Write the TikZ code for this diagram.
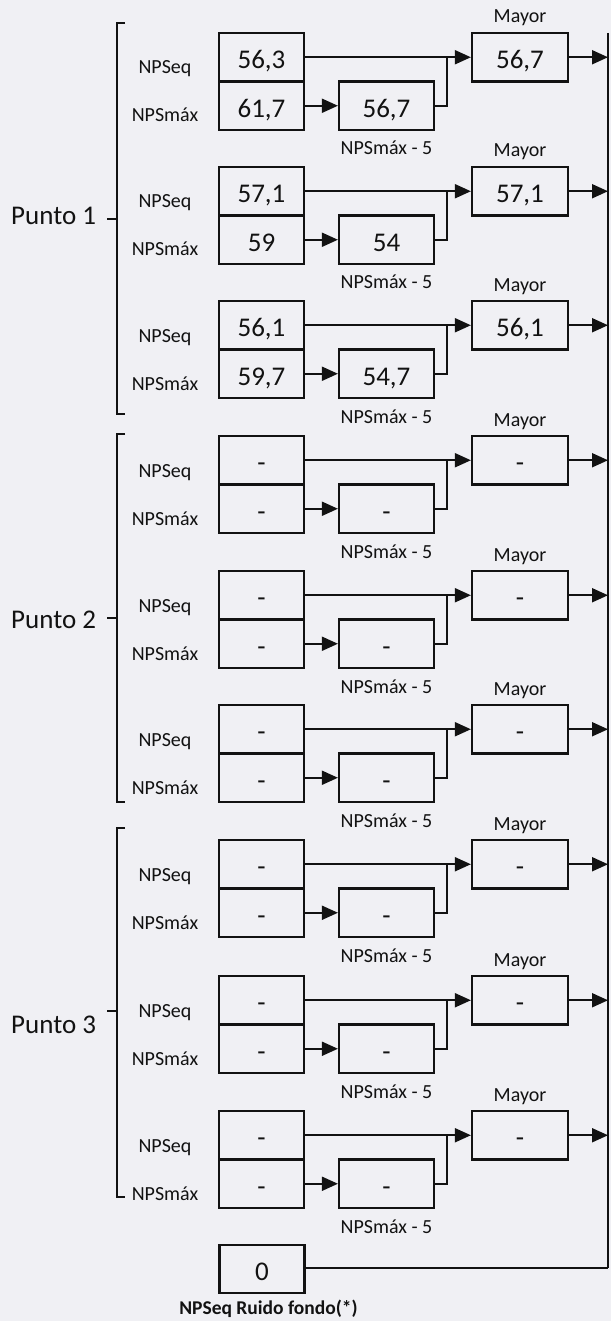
\documentclass[tikz,border=0pt]{standalone}
\usepackage{fontspec}
\setmainfont{Carlito}
\usetikzlibrary{arrows.meta}
\definecolor{paper}{RGB}{240,240,244}
\definecolor{ink}{RGB}{18,18,18}

\newcommand{\blk}[6]{%
  \node[cell] (a#1) at (261.5,#2+24.25) {#3};
  \node[cell] (b#1) at (261.5,#2+72.75) {#4};
  \node[cell, minimum width=95pt] (s#1) at (386.5,#2+72.75) {#5};
  \node[cell, minimum width=96pt] (m#1) at (520,#2+24.25) {#6};
  \node[lbl, anchor=base] (le#1) at (165,#2+41) {NPSeq};
  \node[lbl, anchor=base] (lm#1) at (165,#2+89) {NPSmáx};
  \node[lbl, anchor=base] (ly#1) at (520,#2-10) {Mayor};
  \node[lbl, anchor=base] (ln#1) at (386.5,#2+122) {NPSmáx - 5};
  \coordinate (j#1) at (447,#2+24.25);
  \coordinate (r#1) at (608,#2+24.25);
  \draw[arr] (a#1.east) -- (m#1.west);
  \draw[arr] (b#1.east) -- (s#1.west);
  \draw[conn] (s#1.east) -| (j#1);
  \draw[arr] (m#1.east) -- (r#1);
}

\begin{document}
\begin{tikzpicture}[x=1pt, y=-1pt,
  cell/.style={draw=ink, text=ink, line width=2.2pt, minimum width=85pt,
    minimum height=48.5pt, inner sep=0pt, font=\fontsize{27}{30}\selectfont,
    text height=23pt, text depth=0pt},
  lbl/.style={text=ink, inner sep=0pt, font=\fontsize{20}{24}\selectfont},
  punto/.style={text=ink, inner sep=0pt, font=\fontsize{27}{30}\selectfont},
  conn/.style={draw=ink, line width=1.9pt},
  arr/.style={conn, -{Triangle[length=16pt, width=14pt]}},
  brk/.style={draw=ink, line width=2.1pt}
  ]
  \useasboundingbox (0,0) rectangle (611,1321);
  \fill[paper] (0,0) rectangle (611,1321);

  % Punto 1
  \blk{1}{33}{56,3}{61,7}{56,7}{56,7}
  \blk{2}{167}{57,1}{59}{54}{57,1}
  \blk{3}{301}{56,1}{59,7}{54,7}{56,1}
  % Punto 2
  \blk{4}{436}{-}{-}{-}{-}
  \blk{5}{571}{-}{-}{-}{-}
  \blk{6}{705}{-}{-}{-}{-}
  % Punto 3
  \blk{7}{840}{-}{-}{-}{-}
  \blk{8}{976}{-}{-}{-}{-}
  \blk{9}{1111}{-}{-}{-}{-}

  % brackets
  \draw[brk] (125,23) -- (117,23) -- (117,414) -- (125,414);
  \draw[brk] (107,219) -- (117,219);
  \draw[brk] (125,434) -- (117,434) -- (117,802) -- (125,802);
  \draw[brk] (107,618) -- (117,618);
  \draw[brk] (125,828) -- (117,828) -- (117,1197) -- (125,1197);
  \draw[brk] (107,1011) -- (117,1011);

  \node[punto, anchor=base west] (p1) at (11,225) {Punto 1};
  \node[punto, anchor=base west] (p2) at (11,628) {Punto 2};
  \node[punto, anchor=base west] (p3) at (11,1033) {Punto 3};

  % background noise box
  \node[cell] (z) at (262,1269) {0};
  \node[lbl, anchor=base, font=\fontsize{19.5}{24}\selectfont\bfseries] (zl) at (268.5,1314) {NPSeq Ruido fondo(*)};

  % collector line
  \coordinate (rt) at (608,33);
  \coordinate (rb) at (608,1268);
  \draw[conn] (rt) -- (rb);
  \draw[conn] (z.east |- rb) -- (rb);
\end{tikzpicture}
\end{document}
